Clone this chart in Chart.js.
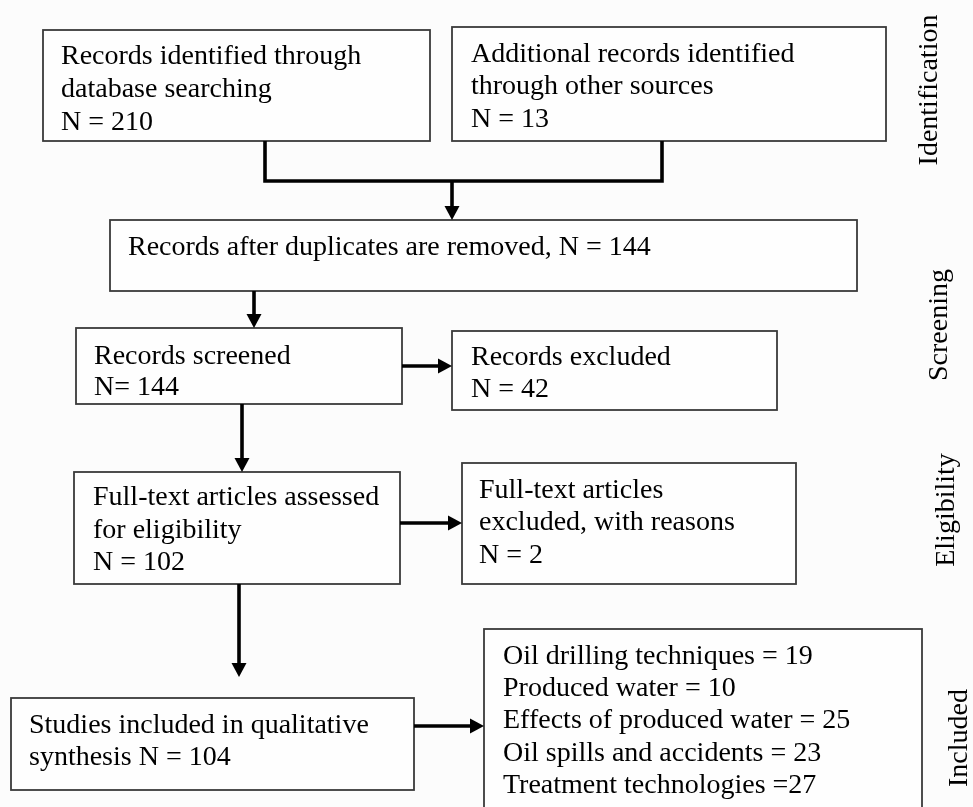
<!DOCTYPE html>
<html>
<head>
<meta charset="utf-8">
<script src="https://cdn.jsdelivr.net/npm/chart.js@4.4.1/dist/chart.umd.min.js"></script>
<style>
  html, body { margin: 0; padding: 0; background: #fcfcfc; }
  #flow { display: block; }
</style>
</head>
<body>
<canvas id="flow" width="973" height="807"></canvas>
<script>
// PRISMA stages (right-hand labels)
const stageLabels = ['Identification', 'Screening', 'Eligibility', 'Included'];

// box texts, {n} is replaced by the count of the same index
const boxTexts = [
    ['Records identified through', 'database searching', 'N = {n}'],
    ['Additional records identified', 'through other sources', 'N = {n}'],
    ['Records after duplicates are removed, N = {n}'],
    ['Records screened', 'N= {n}'],
    ['Records excluded', 'N = {n}'],
    ['Full-text articles assessed', 'for eligibility', 'N = {n}'],
    ['Full-text articles', 'excluded, with reasons', 'N = {n}'],
    ['Studies included in qualitative', 'synthesis N = {n}']
];
const boxCounts = [210, 13, 144, 144, 42, 102, 2, 104];

// included studies by topic
const topics = ['Oil drilling techniques', 'Produced water', 'Effects of produced water', 'Oil spills and accidents', 'Treatment technologies'];
const topicCounts = [19, 10, 25, 23, 27];
const topicSeps = [' = ', ' = ', ' = ', ' = ', ' ='];

// layout in page units (drawn through the chart scales)
const boxRects = [
    { x0: 43,  y0: 30,  x1: 430, y1: 141, tx: 61,  ty: [64, 97, 130] },
    { x0: 452, y0: 27,  x1: 886, y1: 141, tx: 471, ty: [62, 94, 127] },
    { x0: 110, y0: 220, x1: 857, y1: 291, tx: 128, ty: [255] },
    { x0: 76,  y0: 328, x1: 402, y1: 404, tx: 94,  ty: [364, 395] },
    { x0: 452, y0: 331, x1: 777, y1: 410, tx: 471, ty: [365, 397] },
    { x0: 74,  y0: 472, x1: 400, y1: 584, tx: 93,  ty: [505, 538, 570] },
    { x0: 462, y0: 463, x1: 796, y1: 584, tx: 479, ty: [498, 530, 563] },
    { x0: 11,  y0: 698, x1: 414, y1: 790, tx: 29,  ty: [733, 765] }
];
const topicRect = { x0: 484, y0: 629, x1: 922, y1: 840, tx: 503, ty: [664, 696, 728, 761, 793] };

const links = [
    { pts: [[265, 141], [265, 181], [662, 181], [662, 141]], arrow: false },
    { pts: [[452, 181], [452, 220]], arrow: true },
    { pts: [[254, 291], [254, 328]], arrow: true },
    { pts: [[402, 366], [452, 366]], arrow: true },
    { pts: [[242, 404], [242, 472]], arrow: true },
    { pts: [[400, 523], [462, 523]], arrow: true },
    { pts: [[239, 584], [239, 677]], arrow: true },
    { pts: [[414, 726], [484, 726]], arrow: true }
];

const stagePos = [[930, 90], [940, 325], [947, 510], [960, 738]];

const FONT = '28px "Liberation Serif", "Times New Roman", serif';

const flowPlugin = {
    id: 'flow',
    afterDraw(chart) {
        const ctx = chart.ctx;
        const sx = v => chart.scales.x.getPixelForValue(v);
        const sy = v => chart.scales.y.getPixelForValue(v);

        function drawBox(r, lines) {
            const x0 = sx(r.x0), y0 = sy(r.y0), x1 = sx(r.x1), y1 = sy(r.y1);
            ctx.fillStyle = '#fefefe';
            ctx.fillRect(x0, y0, x1 - x0, y1 - y0);
            ctx.strokeStyle = '#3a3a3a';
            ctx.lineWidth = 1.8;
            ctx.strokeRect(x0, y0, x1 - x0, y1 - y0);
            ctx.fillStyle = '#000000';
            ctx.font = FONT;
            ctx.textAlign = 'left';
            ctx.textBaseline = 'alphabetic';
            lines.forEach((t, i) => ctx.fillText(t, sx(r.tx), sy(r.ty[i])));
        }

        ctx.save();
        boxRects.forEach((r, i) => {
            drawBox(r, boxTexts[i].map(t => t.replace('{n}', boxCounts[i])));
        });
        drawBox(topicRect, topics.map((t, i) => t + topicSeps[i] + topicCounts[i]));

        // connectors and arrows
        ctx.strokeStyle = '#000000';
        ctx.fillStyle = '#000000';
        ctx.lineWidth = 3.6;
        ctx.lineCap = 'butt';
        ctx.lineJoin = 'miter';
        links.forEach(l => {
            const p = l.pts.map(q => [sx(q[0]), sy(q[1])]);
            const head = 14, half = 7.5;
            let end = p[p.length - 1];
            let prev = p[p.length - 2];
            const dx = end[0] - prev[0], dy = end[1] - prev[1];
            const len = Math.hypot(dx, dy);
            const ux = dx / len, uy = dy / len;
            ctx.beginPath();
            ctx.moveTo(p[0][0], p[0][1]);
            for (let i = 1; i < p.length - 1; i++) ctx.lineTo(p[i][0], p[i][1]);
            if (l.arrow) {
                ctx.lineTo(end[0] - ux * head, end[1] - uy * head);
            } else {
                ctx.lineTo(end[0], end[1]);
            }
            ctx.stroke();
            if (l.arrow) {
                ctx.beginPath();
                ctx.moveTo(end[0], end[1]);
                ctx.lineTo(end[0] - ux * head - uy * half, end[1] - uy * head + ux * half);
                ctx.lineTo(end[0] - ux * head + uy * half, end[1] - uy * head - ux * half);
                ctx.closePath();
                ctx.fill();
            }
        });

        // stage labels, rotated
        ctx.fillStyle = '#000000';
        ctx.font = FONT;
        ctx.textAlign = 'center';
        ctx.textBaseline = 'middle';
        stageLabels.forEach((s, i) => {
            ctx.save();
            ctx.translate(sx(stagePos[i][0]), sy(stagePos[i][1]));
            ctx.rotate(-Math.PI / 2);
            ctx.fillText(s, 0, 0);
            ctx.restore();
        });
        ctx.restore();
    }
};

new Chart(document.getElementById('flow').getContext('2d'), {
    type: 'scatter',
    data: { datasets: [{ data: [] }] },
    options: {
        responsive: false,
        animation: false,
        layout: { padding: 0 },
        plugins: { legend: { display: false }, tooltip: { enabled: false } },
        scales: {
            x: { type: 'linear', min: 0, max: 973, display: false },
            y: { type: 'linear', min: 0, max: 807, reverse: true, display: false }
        }
    },
    plugins: [flowPlugin]
});
</script>
</body>
</html>
